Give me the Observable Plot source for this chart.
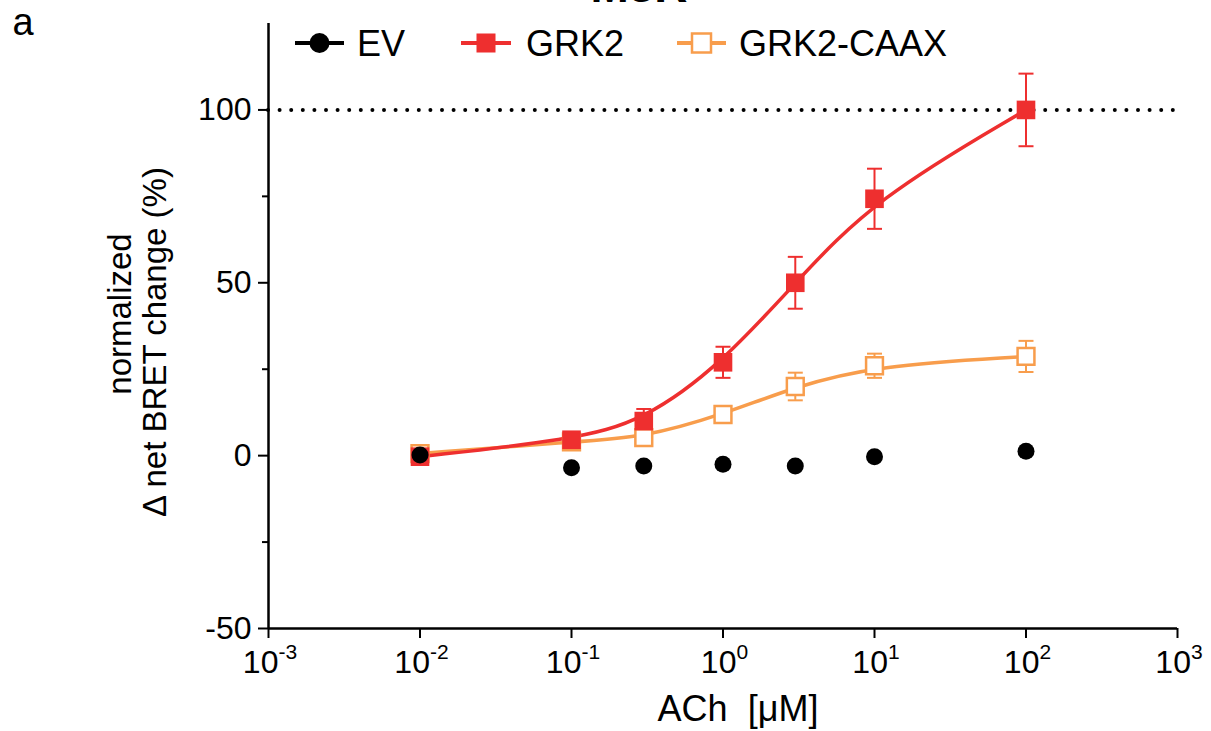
<!DOCTYPE html>
<html><head><meta charset="utf-8">
<script src="https://cdn.jsdelivr.net/npm/d3@7"></script>
<script src="https://cdn.jsdelivr.net/npm/@observablehq/plot@0.6"></script>
<style>
body{margin:0;background:#fff;font-family:"Liberation Sans",Arial,sans-serif;}
#wrap{position:relative;width:1211px;height:731px;overflow:hidden;background:#fff;}
#wrap > svg{position:absolute;left:0;top:0;}
</style></head><body><div id="wrap"></div>
<script>
// ---- data ----
const doses = [0.01, 0.1, 0.3, 1, 3, 10, 100];
const evMean = [0.2, -3.5, -3, -2.5, -3, -0.3, 1.3];
const grk2Mean = [-0.3, 4.6, 10, 27, 50, 74.3, 100];
const grk2Sem = [0.8, 1, 3.5, 4.5, 7.5, 8.7, 10.5];
const caaxMean = [0.6, 4.0, 5.2, 11.9, 20, 26, 28.7];
const caaxSem = [0.8, 1, 1, 1.5, 4, 3.5, 4.5];
const seriesNames = ["EV", "GRK2", "GRK2-CAAX"];
const xTicks = [1e-3, 1e-2, 1e-1, 1, 10, 100, 1000];
const yTicks = [-50, 0, 50, 100];
const yMinorTicks = [-25, 25, 75];
const refLine = [100];
const titleText = "M3R";
const panelLetter = "a";
const xLabel = "ACh  [\u03bcM]";
const yLabel1 = "normalized";
const yLabel2 = "\u0394 net BRET change (%)";

const RED = "#EE2F2F", ORANGE = "#F89D4C", BLACK = "#000";
const ev = doses.map((d, i) => ({dose: d, mean: evMean[i]}));
const grk = doses.map((d, i) => ({dose: d, mean: grk2Mean[i], sem: grk2Sem[i]}));
const caax = doses.map((d, i) => ({dose: d, mean: caaxMean[i], sem: caaxSem[i]}));

const cap = {draw(ctx) { ctx.moveTo(-7.5, 0); ctx.lineTo(7.5, 0); }};

function errMarks(data, color) {
  return [
    Plot.ruleX(data, {x: "dose", y1: d => d.mean - d.sem, y2: d => d.mean + d.sem, stroke: color, strokeWidth: 2}),
    Plot.dot(data, {x: "dose", y: d => d.mean + d.sem, symbol: cap, r: 5, stroke: color, strokeWidth: 2, fill: "none"}),
    Plot.dot(data, {x: "dose", y: d => d.mean - d.sem, symbol: cap, r: 5, stroke: color, strokeWidth: 2, fill: "none"})
  ];
}

const chart = Plot.plot({
  width: 1211, height: 731,
  marginLeft: 268, marginRight: 34, marginTop: 23, marginBottom: 103,
  x: {type: "log", domain: [1e-3, 1e3]},
  y: {domain: [-50, 125]},
  style: {fontFamily: "'Liberation Sans', Arial, sans-serif", fontSize: "32px", color: "#000", background: "transparent", overflow: "visible"},
  marks: [
    Plot.ruleY(refLine, {stroke: BLACK, strokeWidth: 4, strokeDasharray: "0,11.6", strokeLinecap: "round"}),
    Plot.axisY(yTicks, {tickSize: 10, tickPadding: 7, strokeWidth: 2, fontSize: 32, label: null, tickFormat: d => String(d)}),
    Plot.axisY(yMinorTicks, {tickSize: 6, strokeWidth: 2, text: null, label: null}),
    Plot.axisX(xTicks, {tickSize: 10, strokeWidth: 2, text: null, label: null}),
    Plot.ruleX([1e-3], {stroke: BLACK, strokeWidth: 2.5}),
    Plot.ruleY([-50], {stroke: BLACK, strokeWidth: 2.5}),
    // GRK2-CAAX
    Plot.line(caax, {x: "dose", y: "mean", stroke: ORANGE, strokeWidth: 3.5, curve: "basis"}),
    ...errMarks(caax, ORANGE),
    // GRK2
    Plot.line(grk, {x: "dose", y: "mean", stroke: RED, strokeWidth: 3.5, curve: "basis"}),
    ...errMarks(grk, RED),
    Plot.dot(caax, {x: "dose", y: "mean", symbol: "square", r: 9.5, stroke: ORANGE, strokeWidth: 2.5, fill: "white"}),
    Plot.dot(grk, {x: "dose", y: "mean", symbol: "square", r: 10.5, fill: RED, stroke: "none"}),
    Plot.dot(ev, {x: "dose", y: "mean", r: 8.5, fill: BLACK, stroke: "none"})
  ]
});

const wrap = document.getElementById("wrap");
wrap.appendChild(chart);
const svg = d3.select(chart);
const xs = chart.scale("x"), ys = chart.scale("y");

// x tick labels with superscript exponents, placed through the x scale
const xl = svg.append("g").attr("text-anchor", "middle").attr("fill", "#000");
for (const t of xTicks) {
  const tx = xl.append("text").attr("x", xs.apply(t) + 2).attr("y", 673).attr("font-size", 32);
  tx.append("tspan").text("10");
  tx.append("tspan").attr("dy", -14).attr("font-size", 21).text(String(Math.round(Math.log10(t))));
}

// axis labels
svg.append("text").attr("transform", `translate(131,314) rotate(-90)`)
  .attr("text-anchor", "middle").attr("font-size", 33).text(yLabel1);
svg.append("text").attr("transform", `translate(166,342) rotate(-90)`)
  .attr("text-anchor", "middle").attr("font-size", 33).text(yLabel2);
svg.append("text").attr("x", 738).attr("y", 721).attr("text-anchor", "middle")
  .attr("font-size", 36).style("white-space", "pre").text(xLabel);
svg.append("text").attr("x", 23).attr("y", 35).attr("text-anchor", "middle").attr("font-size", 38).text(panelLetter);
svg.append("text").attr("x", 639).attr("y", 1.5).attr("text-anchor", "middle")
  .attr("font-size", 46).attr("font-weight", "bold").text(titleText);

// legend
const leg = svg.append("g").attr("font-size", 36).attr("text-anchor", "start");
const items = [
  {name: seriesNames[0], x0: 295, x1: 344, tx: 357, color: BLACK, kind: "circle"},
  {name: seriesNames[1], x0: 461, x1: 511, tx: 526, color: RED, kind: "fsq"},
  {name: seriesNames[2], x0: 677, x1: 726, tx: 739, color: ORANGE, kind: "osq"}
];
const ly = 43;
for (const it of items) {
  leg.append("line").attr("x1", it.x0).attr("x2", it.x1).attr("y1", ly).attr("y2", ly)
    .attr("stroke", it.color).attr("stroke-width", 4);
  const cx = (it.x0 + it.x1) / 2;
  if (it.kind === "circle") leg.append("circle").attr("cx", cx).attr("cy", ly).attr("r", 10).attr("fill", it.color);
  else if (it.kind === "fsq") leg.append("rect").attr("x", cx - 9.5).attr("y", ly - 9.5).attr("width", 19).attr("height", 19).attr("fill", it.color);
  else leg.append("rect").attr("x", cx - 9.5).attr("y", ly - 9.5).attr("width", 19).attr("height", 19).attr("fill", "white").attr("stroke", it.color).attr("stroke-width", 2.5);
  leg.append("text").attr("x", it.tx).attr("y", ly + 13).text(it.name);
}
</script></body></html>
